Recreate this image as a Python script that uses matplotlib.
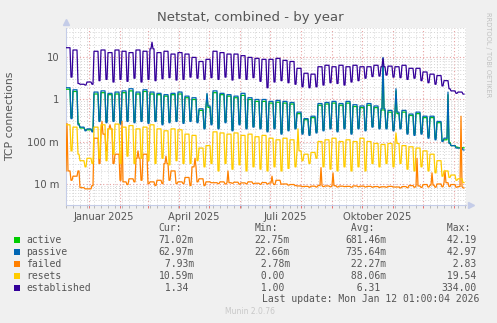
import numpy as np
import pandas as pd
import matplotlib
matplotlib.use("Agg")
import matplotlib.pyplot as plt
import matplotlib.dates as mdates
from matplotlib.patches import Rectangle
from matplotlib.ticker import FixedLocator, NullLocator

# ---- data: one (weekday level, weekend level) pair per week, weeks start Mon 2024-12-09
start = "2024-12-09"
n_weeks = 57

established_hi = [17, 15, 2.3, 2.6, 14, 15, 13, 15, 14, 13, 15, 14, 16, 13, 14, 12, 13, 12, 10, 8,
                  9, 14, 13, 12, 12, 11, 10, 9.5, 9, 9, 9.5, 8.5, 8, 5.5, 4.2, 4.0, 6.0, 6.5, 6.0, 6.5,
                  6.0, 6.5, 6, 6, 6.5, 6, 6.2, 6, 6.5, 5.5, 5.5, 4.5, 4, 3.7, 2.8, 1.6, 1.5]
established_lo = [3.4, 2.4, 2.2, 2.3, 2.8, 3.0, 2.6, 3.0, 2.7, 3.2, 2.6, 3.0, 2.8, 3.1, 3.3, 2.9, 3.0, 3.4, 3.2, 3.0,
                  3.3, 3.0, 3.4, 2.9, 3.2, 3.0, 3.3, 2.7, 1.9, 2.6, 2.8, 2.5, 2.3, 2.0, 1.9, 2.0, 2.2, 2.5, 2.4, 2.2,
                  2.6, 2.8, 3.2, 3.5, 3.6, 3.8, 3.4, 3.3, 3.0, 3.2, 2.8, 2.5, 2.3, 2.1, 1.8, 1.4, 1.34]

passive_hi = [1.9, 1.7, 0.22, 0.2, 1.5, 1.6, 1.4, 1.5, 1.6, 1.8, 1.5, 1.7, 1.5, 1.4, 1.3, 1.4, 1.5, 1.2, 1.1, 0.6,
              0.7, 1.6, 1.4, 1.3, 1.2, 1.4, 1.1, 1.0, 1.0, 0.9, 0.95, 0.9, 0.85, 0.5, 0.35, 0.4, 0.8, 0.85, 0.9, 0.8,
              0.9, 0.75, 0.7, 0.8, 0.7, 0.6, 0.55, 0.5, 0.55, 0.45, 0.5, 0.4, 0.4, 0.3, 0.12, 0.08, 0.07]
passive_lo = [0.35, 0.25, 0.18, 0.17, 0.3, 0.28, 0.3, 0.26, 0.3, 0.28, 0.3, 0.27, 0.3, 0.25, 0.28, 0.3, 0.27, 0.3, 0.28, 0.2,
              0.25, 0.2, 0.28, 0.18, 0.25, 0.2, 0.22, 0.2, 0.17, 0.2, 0.15, 0.18, 0.2, 0.15, 0.14, 0.16, 0.18, 0.2, 0.17, 0.2,
              0.15, 0.2, 0.18, 0.22, 0.2, 0.2, 0.18, 0.2, 0.15, 0.14, 0.15, 0.12, 0.11, 0.1, 0.09, 0.07, 0.063]

active_hi = [1.75, 1.55, 0.21, 0.19, 1.35, 1.45, 1.3, 1.35, 1.45, 1.6, 1.35, 1.55, 1.35, 1.3, 1.2, 1.3, 1.35, 1.1, 1.0, 0.55,
             0.65, 1.45, 1.3, 1.2, 1.1, 1.25, 1.0, 0.9, 0.9, 0.82, 0.86, 0.82, 0.78, 0.46, 0.33, 0.37, 0.73, 0.78, 0.82, 0.73,
             0.82, 0.68, 0.64, 0.73, 0.64, 0.55, 0.5, 0.46, 0.5, 0.42, 0.46, 0.37, 0.37, 0.28, 0.11, 0.08, 0.071]
active_lo = [0.37, 0.27, 0.19, 0.18, 0.32, 0.3, 0.32, 0.28, 0.32, 0.3, 0.32, 0.29, 0.32, 0.27, 0.3, 0.32, 0.29, 0.32, 0.3, 0.21,
             0.27, 0.21, 0.3, 0.19, 0.27, 0.21, 0.23, 0.21, 0.18, 0.21, 0.16, 0.19, 0.21, 0.16, 0.15, 0.17, 0.19, 0.21, 0.18, 0.21,
             0.16, 0.21, 0.19, 0.23, 0.21, 0.21, 0.19, 0.21, 0.16, 0.15, 0.16, 0.13, 0.12, 0.105, 0.095, 0.074, 0.071]

resets_hi = [0.25, 0.22, 0.035, 0.04, 0.22, 0.25, 0.2, 0.26, 0.22, 0.24, 0.2, 0.22, 0.25, 0.2, 0.18, 0.2, 0.19, 0.15, 0.14, 0.07,
             0.08, 0.17, 0.16, 0.15, 0.16, 0.14, 0.15, 0.13, 0.14, 0.12, 0.11, 0.12, 0.11, 0.06, 0.05, 0.055, 0.1, 0.11, 0.12, 0.1,
             0.11, 0.1, 0.12, 0.1, 0.09, 0.085, 0.09, 0.09, 0.08, 0.075, 0.07, 0.06, 0.05, 0.035, 0.02, 0.016, 0.013]
resets_lo = [0.06, 0.05, 0.025, 0.03, 0.04, 0.035, 0.05, 0.03, 0.045, 0.03, 0.04, 0.035, 0.03, 0.04, 0.028, 0.035, 0.03, 0.03, 0.035, 0.025,
             0.03, 0.02, 0.03, 0.022, 0.028, 0.02, 0.025, 0.022, 0.02, 0.025, 0.02, 0.023, 0.025, 0.035, 0.03, 0.04, 0.025, 0.022, 0.02, 0.025,
             0.02, 0.025, 0.02, 0.03, 0.025, 0.03, 0.025, 0.03, 0.022, 0.02, 0.025, 0.02, 0.018, 0.015, 0.014, 0.012, 0.0106]

failed_hi = [0.02, 0.015, 0.008, 0.0075, 0.12, 0.15, 0.2, 0.05, 0.011, 0.013, 0.04, 0.05, 0.011, 0.012, 0.03, 0.02, 0.011, 0.014, 0.025, 0.013,
             0.011, 0.0105, 0.011, 0.0105, 0.0108, 0.0104, 0.011, 0.0102, 0.0106, 0.0103, 0.012, 0.0098, 0.0095, 0.0088, 0.0086, 0.0087, 0.009, 0.0088, 0.0089, 0.0087,
             0.0086, 0.0088, 0.0087, 0.0086, 0.0085, 0.0084, 0.0086, 0.0083, 0.0085, 0.009, 0.0088, 0.0095, 0.0092, 0.0098, 0.0105, 0.0095, 0.0085]
failed_lo = [0.012, 0.02, 0.0075, 0.009, 0.03, 0.06, 0.03, 0.012, 0.0095, 0.011, 0.012, 0.01, 0.009, 0.01, 0.012, 0.01, 0.01, 0.009, 0.011, 0.009,
             0.0105, 0.01, 0.0098, 0.0102, 0.0097, 0.0099, 0.01, 0.0096, 0.0098, 0.0095, 0.0097, 0.0092, 0.009, 0.0085, 0.0082, 0.0083, 0.0085, 0.0084, 0.0083, 0.0085,
             0.0082, 0.0084, 0.0083, 0.0082, 0.0081, 0.0082, 0.0083, 0.0079, 0.008, 0.0082, 0.0081, 0.0083, 0.0082, 0.0084, 0.0085, 0.0082, 0.0079]

# single-day peaks
established_peaks = [("2025-03-05", 23), ("2025-10-22", 9.5)]
passive_peaks = [("2025-10-22", 10.0), ("2025-11-04", 1.8), ("2025-12-26", 1.5), ("2025-04-29", 1.4)]
active_peaks = [("2025-10-22", 9.0), ("2025-11-04", 1.6), ("2025-12-26", 1.3), ("2025-04-29", 1.3)]
resets_peaks = [("2025-07-29", 0.2), ("2025-11-04", 0.16)]
failed_peaks = [("2024-12-10", 0.27), ("2025-01-14", 0.3), ("2025-01-22", 0.25), ("2025-02-03", 0.3),
                ("2025-02-19", 0.06), ("2025-02-25", 0.05), ("2025-03-19", 0.045), ("2025-04-17", 0.04),
                ("2025-05-20", 0.02), ("2025-07-03", 0.015), ("2025-08-21", 0.024), ("2025-09-02", 0.018),
                ("2025-11-25", 0.04), ("2025-12-10", 0.018), ("2025-12-23", 0.02), ("2026-01-08", 0.4)]

names = ["active", "passive", "failed", "resets", "established"]
colors = ["#00CC00", "#0066B3", "#FF8000", "#FFCC00", "#330099"]
cur = ["71.02m", "62.97m", " 7.93m", "10.59m", " 1.34 "]
mins = ["22.75m", "22.66m", " 2.78m", " 0.00 ", " 1.00 "]
avgs = ["681.46m", "735.64m", " 22.27m", " 88.06m", "  6.31 "]
maxs = [" 42.19", " 42.97", "  2.83", " 19.54", "334.00"]

days = pd.date_range(start, periods=n_weeks * 7, freq="D")
week = np.arange(len(days)) // 7
weekday = days.dayofweek.values


def daily(hi, lo, peaks):
    s = pd.Series(np.where(weekday < 5, np.array(hi)[week], np.array(lo)[week]), index=days)
    for d, v in peaks:
        s[pd.Timestamp(d)] = v
    return s


series = [daily(active_hi, active_lo, active_peaks),
          daily(passive_hi, passive_lo, passive_peaks),
          daily(failed_hi, failed_lo, failed_peaks),
          daily(resets_hi, resets_lo, resets_peaks),
          daily(established_hi, established_lo, established_peaks)]

W, H = 497, 323
fig = plt.figure(figsize=(W / 100, H / 100), dpi=100, facecolor="#F0F0F0")
ax = fig.add_axes([66 / W, 1 - 205 / H, 400 / W, 177 / H])
ax.set_facecolor("white")

for s, c in zip(series, colors):
    ax.plot(s.index, s.values, color=c, lw=0.9, zorder=3)

ax.set_yscale("log")
ax.set_ylim(0.0031, 50)
ax.set_xlim(pd.Timestamp("2024-12-09"), pd.Timestamp("2026-01-13"))

ax.yaxis.set_major_locator(FixedLocator([0.01, 0.1, 1, 10]))
ax.set_yticklabels(["10 m", "100 m", "1", "10"])
minor_y = [m * d for d in [0.001, 0.01, 0.1, 1, 10] for m in range(2, 10)]
ax.yaxis.set_minor_locator(FixedLocator(minor_y))
ax.yaxis.set_minor_formatter(plt.NullFormatter())

ax.xaxis.set_major_locator(mdates.MonthLocator())
ax.xaxis.set_minor_locator(mdates.WeekdayLocator(byweekday=mdates.MO))
ax.xaxis.set_major_formatter(plt.NullFormatter())

ax.grid(which="minor", color="#d4d4d4", linestyle=(0, (1, 2)), lw=0.7, zorder=1)
ax.grid(which="major", color="#e8a0a0", linestyle=(0, (1, 2)), lw=0.8, zorder=1)

for sp in ["top", "right"]:
    ax.spines[sp].set_visible(False)
for sp in ["left", "bottom"]:
    ax.spines[sp].set_color("#c4cce8")
    ax.spines[sp].set_linewidth(0.8)
ax.tick_params(axis="both", which="both", length=2, width=0.6, labelsize=7.2, labelcolor="#555555")
ax.tick_params(axis="x", which="major", colors="#e06060", labelcolor="#555555")
ax.tick_params(axis="x", which="minor", colors="#b0b0b0")
ax.tick_params(axis="y", which="both", length=0, pad=5)

# axis arrows
ax.plot([0], [1.035], marker="^", ms=4, color="#c4cce8", transform=ax.transAxes, clip_on=False)
ax.plot([1.012], [0], marker=">", ms=4, color="#c4cce8", transform=ax.transAxes, clip_on=False)

for lab, d in [("Januar 2025", "2025-01-16"), ("April 2025", "2025-04-16"),
               ("Juli 2025", "2025-07-16"), ("Oktober 2025", "2025-10-16")]:
    ax.text(pd.Timestamp(d), -0.04, lab, transform=ax.get_xaxis_transform(),
            ha="center", va="top", fontsize=7.2, color="#555555")

fig.text(250 / W, 1 - 18 / H, "Netstat, combined - by year", ha="center", va="center",
         fontsize=9.5, color="#555555")
fig.text(10 / W, 1 - 116 / H, "TCP connections", rotation=90, ha="center", va="center",
         fontsize=7.8, color="#555555")
fig.text(488 / W, 1 - 55 / H, "RRDTOOL / TOBI OETIKER", rotation=270, ha="center", va="center",
         fontsize=4.8, color="#c0c0c0")
fig.text(250 / W, 1 - 311 / H, "Munin 2.0.76", ha="center", va="center",
         fontsize=5.5, color="#c8c8c8")

# legend
mono = dict(family="DejaVu Sans Mono", fontsize=7.05, color="#555555", va="center")
fig.text(158.7 / W, 1 - 228 / H, "Cur:", **mono)
fig.text(254.7 / W, 1 - 228 / H, "Min:", **mono)
fig.text(345 / W, 1 - 228 / H, " Avg:", **mono)
fig.text(441 / W, 1 - 228 / H, " Max:", **mono)
rows_y = [240, 252, 264, 276, 288]
for i, name in enumerate(names):
    y = 1 - rows_y[i] / H
    fig.patches.append(Rectangle((14 / W, y - 3 / H), 6 / W, 6 / H, transform=fig.transFigure,
                                 facecolor=colors[i], edgecolor="none"))
    fig.text(26 / W, y, name, **mono)
    fig.text(158.7 / W, y, cur[i], **mono)
    fig.text(254.7 / W, y, mins[i], **mono)
    fig.text(345 / W, y, avgs[i], **mono)
    fig.text(441 / W, y, maxs[i], **mono)
fig.text(262 / W, 1 - 299 / H, "Last update: Mon Jan 12 01:00:04 2026", **mono)

fig.savefig("out.png", dpi=100, facecolor=fig.get_facecolor())
